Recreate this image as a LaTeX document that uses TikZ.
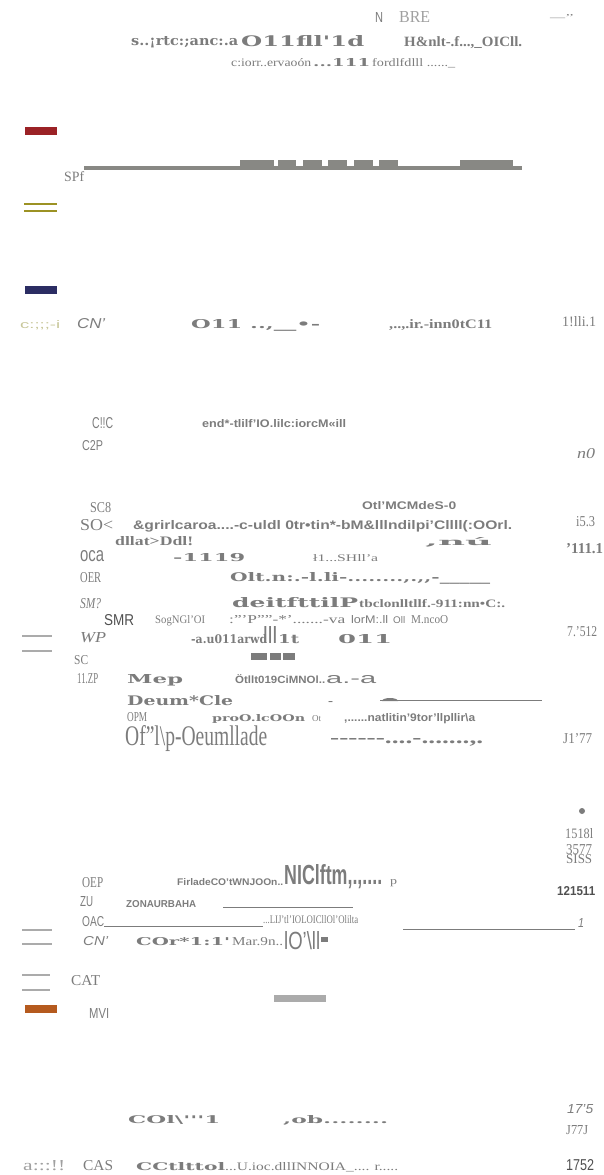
\documentclass[tikz,border=0pt]{standalone}
\usepackage{fontspec}
\usepackage{graphicx}
\setmainfont{Liberation Serif}
\setsansfont{Liberation Sans}
\newfontfamily\widefont{DejaVu Serif}
\newcommand\wbf{\widefont\bfseries}
\newcommand\sfb{\sffamily\bfseries}
\newcommand\rmb{\rmfamily\bfseries}
\newcommand\fitto[3]{\resizebox{#1pt}{#2pt}{#3}}
\definecolor{txtgray}{HTML}{7C7C7C}
\definecolor{palegray}{HTML}{A0A0A0}
\definecolor{darkgray}{HTML}{505050}
\definecolor{linegray}{HTML}{888884}
\definecolor{rulegray}{HTML}{ABABAB}
\definecolor{barred}{HTML}{9B2226}
\definecolor{barolive}{HTML}{9C9224}
\definecolor{barnavy}{HTML}{2B2D63}
\definecolor{barorange}{HTML}{B55A1E}
\definecolor{paleolive}{HTML}{C8C79A}
\begin{document}
\begin{tikzpicture}[x=1pt,y=-1pt,line cap=butt]
	\tikzset{lb/.style={inner sep=0pt,anchor=base west,text=txtgray},
		rule/.style={draw=rulegray,line width=2pt},
		hair/.style={draw=txtgray,line width=1pt}}
	\useasboundingbox (0,0) rectangle (603,1175);
	% heading
	\node[lb] (nN) at (375,23) {\fitto{8}{10}{\sffamily N}};
	\node[lb,text=palegray] (nBRE) at (399,23) {\fitto{31}{11}{BRE}};
	\node[lb] (nDash) at (550,20) {\fitto{24}{6}{—’’}};
	\node[lb] (t1) at (131,45) {\fitto{107}{9}{\wbf s..¡rtc:;anc:.a}};
	\node[lb] (t2) at (241,46) {\fitto{123}{11}{\wbf O11fll'1d}};
	\node[lb] (t3) at (404,46) {\fitto{118}{10}{\rmb H\&nlt-.f...,\_OICll.}};
	\node[lb] (t4) at (231,66) {\fitto{80}{8}{c:iorr..ervaoón}};
	\node[lb] (t5) at (313,66) {\fitto{57}{8}{\wbf ...111}};
	\node[lb] (t6) at (372,66) {\fitto{83}{8}{fordlfdlll ......\_}};
	% legend bars
	\fill[barred] (25,127) rectangle (57,135);
	\fill[linegray] (84,166) rectangle (522,170);
	\foreach \a/\b in {240/274,278/296,303/322,328/347,354/373,379/398,460/513}
		\fill[linegray] (\a,160) rectangle (\b,166);
	\node[lb] (nSPf) at (64,181) {\fitto{20}{10}{SPf}};
	\foreach \y in {204,211}
		\draw[barolive,line width=2pt] (24,\y)--(57,\y);
	\fill[barnavy] (25,286) rectangle (57,294);
	\node[lb,text=paleolive] (c1) at (20,328) {\fitto{40}{8}{\sffamily c:;;;-i}};
	\node[lb] (c2) at (77,328) {\fitto{28}{10}{\sffamily\itshape CN'}};
	\node[lb] (c3) at (191,328) {\fitto{129}{9}{\wbf O11 ..,\_\_•-}};
	\node[lb] (c4) at (389,328) {\fitto{103}{9}{\rmb ,..,.ir.-inn0tC11}};
	\node[lb] (c5) at (562,326) {\fitto{34}{10}{1!lli.1}};
	% middle block
	\node[lb] (m1) at (92,428) {\fitto{21}{11}{\sffamily C!!C}};
	\node[lb] (m2) at (202,427) {\fitto{144}{8}{\sfb end*-tlilf'IO.lilc:iorcM«ill}};
	\node[lb] (m3) at (82,450) {\fitto{21}{10}{\sffamily C2P}};
	\node[lb] (m4) at (577,458) {\fitto{18}{10}{\itshape n0}};
	\node[lb] (m5) at (90,512) {\fitto{21}{10}{SC8}};
	\node[lb] (m6) at (362,509) {\fitto{94}{8}{\sfb Otl'MCMdeS-0}};
	\node[lb] (m7) at (80,530) {\fitto{33}{11}{SO<}};
	\node[lb] (m8) at (133,529) {\fitto{379}{9}{\sfb \&grirlcaroa....-c-uldl 0tr•tin*-bM\&lllndilpi'Cllll(:OOrl.}};
	\node[lb] (m9) at (576,526) {\fitto{19}{10}{i5.3}};
	\node[lb] (m10) at (115,545) {\fitto{78}{9}{\rmb dllat>Ddl!}};
	\node[lb] (m11) at (425,545) {\fitto{67}{8}{\wbf ,nú}};
	\node[lb] (m12) at (566,553) {\fitto{37}{10}{\rmb '111.1}};
	\node[lb] (m13) at (80,561) {\fitto{24}{11}{\sffamily oca}};
	\node[lb] (m14) at (173,561) {\fitto{72}{8}{\wbf -1119}};
	\node[lb] (m15) at (313,561) {\fitto{65}{7}{ł1...SHll'a}};
	\node[lb] (m16) at (80,582) {\fitto{21}{10}{OER}};
	\node[lb] (m17) at (230,581) {\fitto{260}{9}{\wbf Olt.n:.-l.li-........,.,,-\_\_\_\_\_}};
	\node[lb] (m18) at (80,608) {\fitto{21}{10}{\itshape SM?}};
	\node[lb] (m19) at (232,607) {\fitto{126}{10}{\wbf deitfttilP}};
	\node[lb] (m20) at (359,607) {\fitto{146}{8}{\rmb tbclonlltllf.-911:nn•C:.}};
	\node[lb,text=darkgray] (m21) at (104,625) {\fitto{30}{11}{\sffamily SMR}};
	\node[lb] (m22) at (155,623) {\fitto{50}{8}{SogNGl'OI}};
	\node[lb] (m23) at (229,623) {\fitto{116}{8}{:'''P''''-*'.......-va}};
	\node[lb] (m24) at (351,623) {\fitto{37}{8}{\sffamily lorM:.ll}};
	\node[lb] (m25) at (393,623) {\fitto{12}{7}{\sffamily Oll}};
	\node[lb] (m26) at (411,623) {\fitto{37}{8}{M.ncoO}};
	\node[lb] (m27) at (567,636) {\fitto{30}{10}{7.'512}};
	\foreach \y in {636,651}
		\draw[rule] (22,\y)--(52,\y);
	\node[lb] (m28) at (80,642) {\fitto{26}{10}{\itshape WP}};
	\node[lb] (m29) at (191,643) {\fitto{76}{9}{\wbf -a.u011arwd}};
	\node[lb] (m30) at (263,643) {\fitto{14}{17}{\sffamily lll}};
	\node[lb] (m31) at (278,643) {\fitto{21}{9}{\wbf 1t}};
	\node[lb] (m31b) at (338,643) {\fitto{54}{9}{\wbf 011}};
	\foreach \a/\b in {251/267,270/281,283/295}
		\fill[txtgray] (\a,653) rectangle (\b,660);
	\node[lb] (m32) at (74,664) {\fitto{14}{9}{SC}};
	\node[lb] (m33) at (77,683) {\fitto{21}{10}{11.ZP}};
	\node[lb] (m34) at (127,683) {\fitto{56}{9}{\wbf Mep}};
	\node[lb] (m35) at (235,683) {\fitto{90}{9}{\sfb Ötllt019CiMNOl..}};
	\node[lb] (m36) at (326,683) {\fitto{50}{8}{\sffamily a.-a}};
	\node[lb] (m37) at (127,705) {\fitto{106}{10}{\wbf Deum*Cle}};
	\node[lb] (m38) at (328,705) {\fitto{5}{4}{-}};
	\draw[hair] (380,700.5)--(542,700.5);
	\fill[txtgray] (382,701) arc[start angle=180,end angle=360,x radius=8,y radius=3];
	\node[lb] (m39) at (127,721) {\fitto{20}{9}{OPM}};
	\node[lb] (m40) at (212,721) {\fitto{93}{7}{\wbf proO.lcOOn}};
	\node[lb] (m41) at (312,721) {\fitto{9}{6}{Ot}};
	\node[lb] (m42) at (344,721) {\fitto{131}{8}{\sfb ,......natlitin'9tor'llpllir\textbackslash a}};
	\node[lb] (m43) at (125,745) {\fitto{142}{20}{Of''l\textbackslash p-Oeumllade}};
	\node[lb] (m44) at (330,743) {\fitto{153}{5}{\rmb -{}-{}-{}-{}-{}-....-.......,.}};
	\node[lb] (m45) at (563,743) {\fitto{29}{10}{J1'77}};
	% right column
	\fill[txtgray] (582,811) circle (3);
	\node[lb] (r1) at (565,838) {\fitto{28}{10}{1518l}};
	\node[lb] (r2) at (566,854) {\fitto{26}{10}{3577}};
	\node[lb] (r3) at (566,863) {\fitto{26}{9}{SISS}};
	\node[lb,text=darkgray] (r4) at (557,895) {\fitto{38}{9}{\sfb 121511}};
	\node[lb] (r5) at (578,927) {\fitto{6}{9}{\sffamily\itshape 1}};
	% lower block
	\node[lb] (l1) at (82,887) {\fitto{21}{10}{OEP}};
	\node[lb] (l2) at (177,885) {\fitto{106}{7}{\sfb FirladeCO'tWNJOOn..}};
	\node[lb] (l3) at (284,884) {\fitto{98}{20}{\sfb NIClftm,.,....}};
	\node[lb] (l4) at (390,884) {\fitto{7}{5}{p}};
	\node[lb] (l5) at (80,906) {\fitto{13}{10}{\sffamily ZU}};
	\node[lb] (l6) at (126,907) {\fitto{70}{7}{\sfb ZONAURBAHA}};
	\draw[hair] (223,907.5)--(353,907.5);
	\node[lb] (l7) at (82,926) {\fitto{22}{10}{\sffamily OAC}};
	\node[lb] (l8) at (263,923) {\fitto{95}{8}{...LIJ'tl'IOLOICllOl'Olilta}};
	\draw[hair] ([yshift=-0.5pt]l7.base east)--([yshift=-0.5pt]l8.base west |- l7.base);
	\draw[hair] (403,929.5)--(575,929.5);
	\foreach \y in {930,944}
		\draw[rule] (22,\y)--(52,\y);
	\node[lb] (l9) at (83,945) {\fitto{25}{9}{\sffamily\itshape CN'}};
	\node[lb] (l10) at (136,945) {\fitto{94}{8}{\wbf COr*1:1'}};
	\node[lb] (l11) at (232,945) {\fitto{51}{8}{Mar.9n..}};
	\node[lb] (l12) at (284,949) {\fitto{36}{18}{\sffamily lO'\textbackslash ll}};
	\fill[txtgray] (321,937) rectangle (328,942);
	\foreach \y in {975,990}
		\draw[rule] (22,\y)--(50,\y);
	\node[lb] (l13) at (71,985) {\fitto{29}{10}{CAT}};
	\fill[rulegray] (274,995) rectangle (326,1002);
	\fill[barorange] (25,1005) rectangle (57,1013);
	\node[lb] (l14) at (89,1018) {\fitto{20}{10}{\sffamily MVI}};
	% bottom
	\node[lb] (b1) at (128,1123) {\fitto{92}{8}{\wbf COl\textbackslash'''1}};
	\node[lb] (b2) at (283,1123) {\fitto{105}{8}{\wbf ,ob........}};
	\node[lb] (b3) at (567,1113) {\fitto{26}{9}{\sffamily\itshape 17'5}};
	\node[lb] (b4) at (566,1134) {\fitto{22}{9}{J77J}};
	\node[lb,text=palegray] (b5) at (23,1170) {\fitto{42}{10}{a:::!!}};
	\node[lb] (b6) at (83,1170) {\fitto{30}{10}{CAS}};
	\node[lb] (b7) at (136,1170) {\fitto{89}{8}{\wbf CCtlttol}};
	\node[lb] (b8) at (225,1170) {\fitto{173}{8}{...U.ioc.dllINNOIA\_.... r.....}};
	\node[lb,text=darkgray] (b9) at (566,1170) {\fitto{28}{11}{\sffamily 1752}};
\end{tikzpicture}
\end{document}
